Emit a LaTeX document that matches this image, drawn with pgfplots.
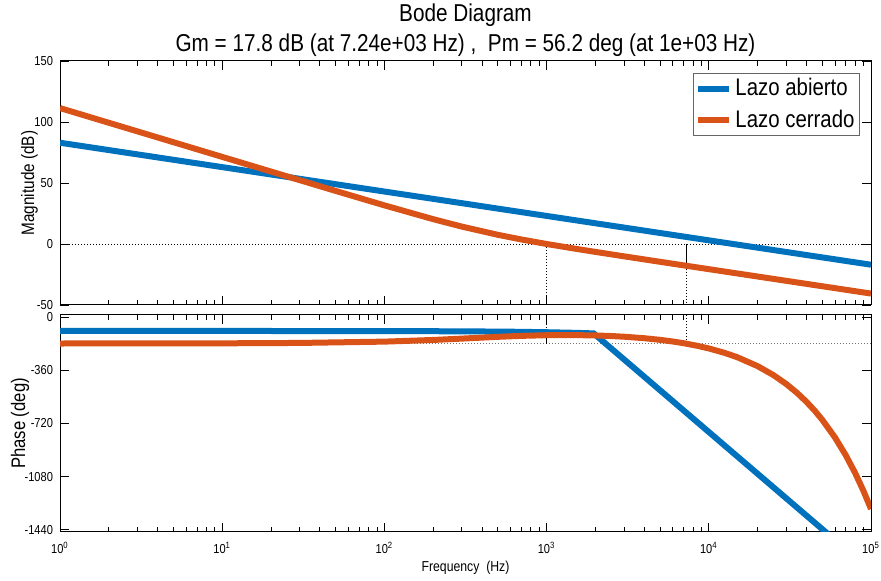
\documentclass[border=0pt]{standalone}
\usepackage{fontspec}
\setmainfont{Liberation Sans}[FakeStretch=0.85]
\usepackage{pgfplots}
\pgfplotsset{compat=1.18}

\definecolor{mblue}{RGB}{0,114,189}
\definecolor{morange}{RGB}{217,83,25}

\tikzset{mdot/.style={black, line width=0.45pt, dash pattern=on 0.5pt off 1pt}}

\begin{document}
\begin{tikzpicture}[x=1pt,y=1pt]

% magnitude
\begin{axis}[scale only axis, width=405.5pt, height=122pt,
  at={(30pt,138pt)}, anchor=south west,
  xmode=log, xmin=1, xmax=1e5,
  xtick={1,10,100,1000,10000,100000}, xticklabels={},
  ymin=-50, ymax=150, ytick={-50,0,50,100,150},
  yticklabels={-50,0,50,100,150},
  axis line style={line width=0.5pt},
  major tick length=4.5pt, minor tick length=2.5pt,
  every tick/.style={black, line width=0.4pt},
  tick label style={font=\fontsize{6.5}{7}\selectfont},
  ylabel={Magnitude (dB)},
  ylabel style={at={(axis description cs:-0.0375,0.5)}, anchor=center,
    font=\fontsize{9}{10}\selectfont},
  legend style={at={(1,1)}, anchor=north east, xshift=-5.5pt, yshift=-6pt,
    draw=black!60, line width=0.5pt, font=\fontsize{12}{13}\selectfont,
    inner sep=1pt, row sep=2.5pt, nodes={inner sep=1.5pt}},
  legend cell align=left,
  legend image code/.code={\draw (0pt,0pt) -- (15.5pt,0pt);},
]
\addplot[mdot, forget plot] coordinates {(1,0) (1e5,0)};
\addplot[mdot, forget plot] coordinates {(1000,0) (1000,-50)};
\addplot[mdot, forget plot] coordinates {(7240,-17.82) (7240,-50)};
\addplot[black, line width=0.5pt, forget plot] coordinates {(7240,0) (7240,-17.82)};
\addplot[mblue, line width=3pt] coordinates {(1,83) (1e5,-17)};
\addlegendentry{Lazo abierto}
\addplot[morange, line width=3pt] coordinates {
  (1,111.4) (2,99.36) (5,83.44) (10,71.40) (20,59.37) (50,43.51)
  (100,31.66) (200,20.33) (300,14.26) (500,7.53) (700,3.69) (1000,0.00)
  (1500,-3.86) (2000,-6.49) (3000,-10.10) (5000,-14.59) (7240,-17.82)
  (10000,-20.63) (20000,-26.66) (50000,-34.62) (100000,-40.64)
};
\addlegendentry{Lazo cerrado}
\end{axis}

% phase
\begin{axis}[scale only axis, width=405.5pt, height=108.5pt,
  at={(30pt,24.5pt)}, anchor=south west,
  xmode=log, xmin=1, xmax=1e5,
  xtick={1,10,100,1000,10000,100000},
  xticklabels={10\textsuperscript{0},10\textsuperscript{1},10\textsuperscript{2},
    10\textsuperscript{3},10\textsuperscript{4},10\textsuperscript{5}},
  ymin=-1455, ymax=13, ytick={-1440,-1080,-720,-360,0},
  yticklabels={-1440,-1080,-720,-360,0},
  axis line style={line width=0.5pt},
  major tick length=4.5pt, minor tick length=2.5pt,
  every tick/.style={black, line width=0.4pt},
  tick label style={font=\fontsize{6.5}{7}\selectfont},
  xticklabel style={yshift=-1.5pt},
  xlabel={Frequency\ \ (Hz)},
  xlabel style={at={(axis description cs:0.5,-0.166)}, anchor=center,
    font=\fontsize{7.2}{8}\selectfont},
  ylabel={Phase (deg)},
  ylabel style={at={(axis description cs:-0.0493,0.5)}, anchor=center,
    font=\fontsize{9.8}{11}\selectfont},
]
\addplot[mdot, black!55] coordinates {(1,-180) (1e5,-180)};
\addplot[mdot] coordinates {(1000,13) (1000,-123.9)};
\addplot[black, line width=0.5pt] coordinates {(1000,-123.9) (1000,-180)};
\addplot[mdot] coordinates {(7240,13) (7240,-180)};
\addplot[mblue, line width=3pt] coordinates {
  (1,-95) (10,-95.1) (100,-95.8) (300,-97.5) (600,-100) (1000,-103.5)
  (1500,-107.7) (1950,-111.5) (55800,-1480)
};
\addplot[morange, line width=3pt] coordinates {
  (1,-179.9) (10,-178.7) (30,-176.1) (100,-167.2) (200,-155.9) (300,-146.8)
  (500,-134.7) (700,-128.2) (1000,-123.9) (1500,-123.1) (2000,-125.5)
  (2500,-129.3) (3000,-133.9) (4000,-144.1) (5000,-155.1) (6000,-166.4)
  (7000,-177.9) (8500,-195.5) (10000,-213.3) (12500,-243.0) (15000,-273.0)
  (20000,-333.1) (25000,-393.3) (30000,-453.6) (35000,-514.0) (40000,-574.4)
  (45000,-634.8) (50000,-695.3) (60000,-816.1) (70000,-937.1)
  (80000,-1058.0) (90000,-1178.9) (100000,-1299.8)
};
\end{axis}

\node[font=\fontsize{12.2}{14}\selectfont, anchor=base] at (232.75,279.5) {Bode Diagram};
\node[font=\fontsize{12.2}{14}\selectfont, anchor=base] at (232.75,264.5)
  {Gm = 17.8 dB (at 7.24e+03 Hz) ,\ \ Pm = 56.2 deg (at 1e+03 Hz)};

\pgfresetboundingbox
\path[use as bounding box] (0,0) rectangle (440.5,290.5);
\end{tikzpicture}
\end{document}
